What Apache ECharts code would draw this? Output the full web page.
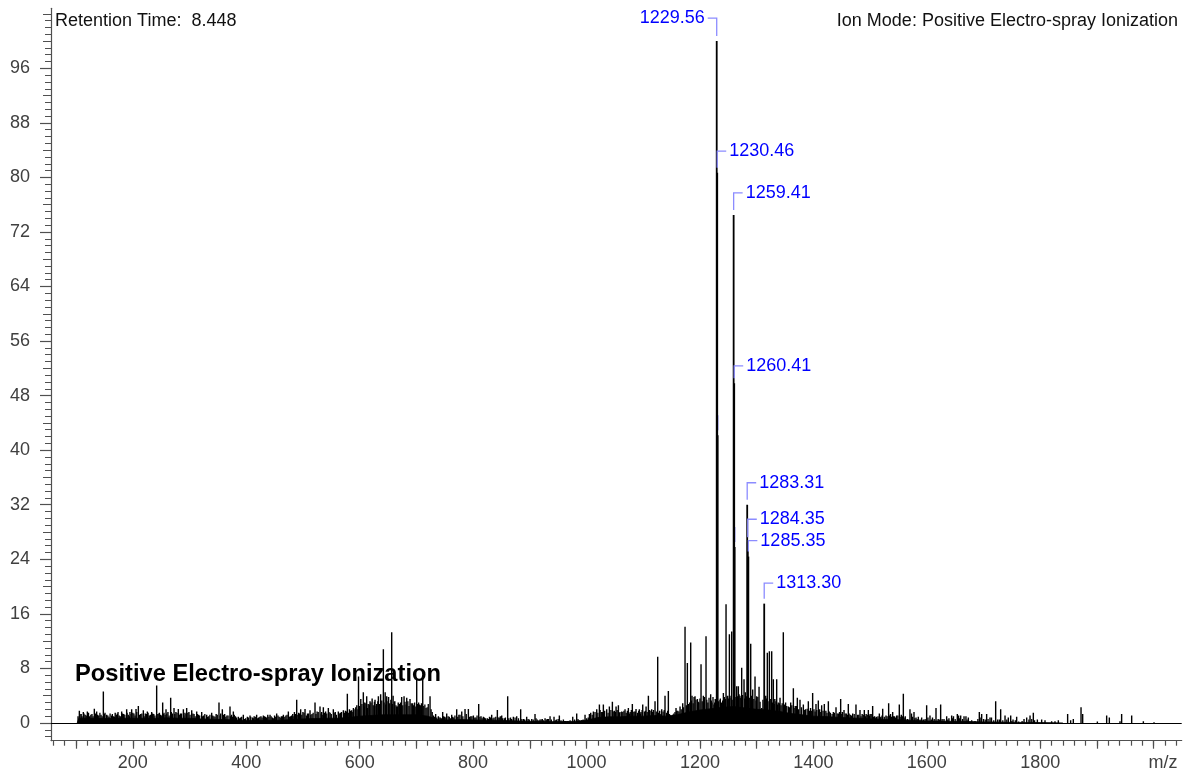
<!DOCTYPE html>
<html><head><meta charset="utf-8">
<script src="https://cdn.jsdelivr.net/npm/echarts@6/dist/echarts.min.js"></script>
<style>html,body{margin:0;padding:0;background:#fff}#c{width:1190px;height:776px}</style>
</head><body><div id="c"></div>
<script>
// ---------- DATA ----------
const peakMz = [103.5,105.8,109,112.8,116,119.9,124,128,132.2,136.3,140,144,148.1,151,154,158,162.8,166,169,172.8,176,180.4,184,189.2,192,195,198,202,205.7,209.8,214,218.6,222,225.7,229,233.3,237,242.1,246,249,252.7,255,258.6,262,266.8,270,272.7,276,280.3,284,289.2,292,295,299,303.9,308,312.7,316,321.5,325,330.3,334,339.1,343,347,352,355,357.9,362,366,371.4,374,377.3,381,386.1,390,394.9,399,402,406.7,411,414,418.4,422,426,430.2,434,438,442,446,450,453.7,458,462,465.5,470,474.3,478,482,485,489,492.5,496,500,503.7,508,512.5,516,521.3,525,530.1,533,536,540,544.8,548,553.6,557,562.4,566,571.3,575,578.3,582,586,589,591.8,595,598,602,606.5,609,612.4,615,618.3,622,627.1,630,633,637,641.8,645,647.7,651,656.5,659,662,665.3,668,674.1,678.3,683,688.8,693.5,700.6,705.3,711.2,717,724.1,730,734,738.8,742,746.4,750,753.5,758,762.3,766,771.1,775,780,785.8,791.7,796,800.5,805,809.9,814,818.1,822,825.2,829,832.8,837,842.8,846,850.5,855,861,866,871,876.9,883.9,889,894.5,899,903.4,909.2,913,918,922,926.9,931,935.7,942.7,947,952.1,959.2,963,968,975.7,982.7,987,991.5,997.4,1003,1007.4,1012.1,1018,1022.7,1026,1029.7,1035.6,1040.3,1045.6,1049,1052.1,1056.2,1059,1062.1,1067.9,1073.8,1077,1080.8,1084,1087.3,1093.2,1096,1099.1,1105,1109.1,1112,1114.9,1120.8,1125.5,1129,1132.6,1138.4,1144.3,1147,1150.2,1154,1157.8,1161,1164.9,1169.6,1173.7,1177.8,1183.7,1186,1189.6,1191.3,1195.5,1198,1201.9,1206,1210.7,1214,1218.9,1221,1224.8,1227,1235.4,1238,1241.3,1246,1249,1251.9,1256,1264.8,1267.7,1270.5,1273.6,1277.7,1280,1289.5,1293,1297.1,1300,1304.2,1308.9,1316,1318.8,1322.4,1326.5,1329.4,1332,1335.3,1338,1341.2,1347,1351,1355.9,1360,1364.7,1368,1371.7,1376.4,1382.3,1386,1391.1,1395,1398.7,1401,1404.6,1408.7,1411,1414.6,1419.3,1422,1426.4,1430,1435.2,1439.9,1444,1448.1,1451,1454,1458,1461.6,1465,1469.3,1475.1,1478,1482.2,1486,1489.8,1493,1496.9,1500,1504.5,1508,1511.6,1516.3,1519,1522.2,1528,1532.7,1536,1539.8,1543,1546.8,1551.5,1555,1558.6,1562,1565.6,1570.3,1573,1577.4,1581,1585,1590.9,1594,1599.7,1602,1605.6,1610,1616.2,1620,1624.4,1630.3,1635,1639,1643.8,1647,1653.8,1656,1659.7,1665.6,1669,1673.2,1679.1,1685,1692.6,1696.7,1700,1705.5,1711.4,1714,1721.4,1725,1730.2,1737.9,1743.7,1747.9,1752,1758.4,1771.4,1776.1,1782,1787.8,1794.9,1802.5,1808.4,1820.1,1826,1831.9,1848.3,1853.6,1858.3,1871.9,1874.8,1900.7,1917.1,1921.8,1940.6,1943.5,1961.2,1981.8,2000.6];
const peakInt = [1.0,1.8,1.3,1.6,1.2,1.7,1.0,1.3,2.1,1.7,1.1,1.2,4.6,1.5,1.2,0.9,1.1,1.0,1.5,1.4,1.1,1.7,1.3,2.0,1.2,1.6,2.0,1.4,2.05,2.5,1.3,1.85,1.4,1.7,1.1,1.6,1.3,5.5,1.4,1.2,3.0,1.5,2.0,1.6,3.7,1.4,2.2,1.6,2.05,1.4,2.0,1.5,2.2,1.6,1.85,1.3,1.7,1.2,1.6,1.1,1.2,1.0,1.5,1.0,1.3,3.0,1.4,2.0,1.3,1.1,2.4,1.2,1.7,1.0,0.9,0.8,1.2,0.7,0.9,1.1,0.8,1.0,1.2,0.8,1.0,1.1,0.9,1.2,1.2,0.8,1.1,1.4,0.9,1.0,1.2,1.1,1.7,1.0,1.3,1.6,3.4,1.5,2.0,1.6,2.05,1.4,1.85,1.3,3.0,1.7,2.4,1.6,2.3,1.7,2.2,1.5,2.0,1.6,1.7,1.5,1.85,1.8,4.3,2.0,1.85,2.2,2.0,2.6,6.8,3.5,4.5,3.0,3.9,2.8,3.2,3.6,3.4,2.8,3.9,4.2,10.8,4.5,3.9,3.8,13.3,4.0,3.2,2.4,3.0,3.8,3.9,3.7,3.5,2.9,6.5,2.7,6.5,2.2,3.9,1.1,1.3,1.0,0.8,1.6,0.9,1.4,0.9,1.2,0.8,2.0,1.2,1.7,2.05,2.05,1.0,1.1,0.8,2.8,1.0,0.9,0.7,0.7,0.9,1.2,0.8,1.9,0.8,1.1,0.7,3.9,0.8,0.9,1.0,2.0,0.6,0.9,0.5,0.6,1.3,0.5,0.5,0.6,0.7,0.6,1.0,0.9,0.5,1.1,0.5,0.3,0.25,0.9,1.4,0.4,0.4,1.2,0.8,1.5,1.7,2.0,2.7,1.6,2.7,2.0,2.4,3.1,1.8,2.4,2.6,1.6,1.7,2.0,2.2,1.6,2.8,1.7,2.05,2.0,1.6,2.7,2.4,4.0,1.8,2.0,3.2,9.7,1.8,2.0,4.0,4.7,1.2,1.0,1.4,2.2,1.8,2.4,2.9,14.1,8.8,11.8,4.0,3.8,3.9,3.5,3.0,8.6,4.0,12.7,3.0,4.2,3.0,2.7,3.5,3.4,3.0,4.4,17.4,4.0,13.0,13.4,5.4,5.4,4.0,8.1,6.4,4.5,11.6,4.9,6.8,3.9,5.3,2.2,4.0,10.3,10.5,10.5,6.4,3.5,6.4,3.0,3.7,13.3,3.0,2.4,3.0,5.1,2.5,3.7,3.4,2.7,2.0,3.2,2.2,4.4,2.0,2.8,3.3,2.0,2.6,2.8,1.8,3.2,1.5,1.6,2.3,1.4,3.5,1.6,1.9,1.4,2.8,1.2,1.4,2.7,1.2,1.9,1.3,1.9,1.3,1.9,1.3,2.5,1.0,0.9,1.4,0.9,2.1,1.1,2.9,1.3,1.6,1.0,1.1,2.7,1.2,4.3,1.0,0.6,2.0,1.4,1.6,0.8,0.9,0.8,0.5,2.6,0.8,1.1,0.8,2.2,0.6,2.7,0.6,1.0,0.7,1.1,1.0,1.3,1.1,1.1,1.0,1.0,0.8,0.4,0.3,1.6,1.3,0.6,1.3,0.8,0.8,3.2,0.5,2.0,1.1,0.8,1.1,0.5,0.9,0.6,0.8,1.1,1.5,0.5,0.5,0.4,0.25,0.25,0.4,1.3,0.4,0.6,2.3,1.3,0.2,1.1,0.8,0.25,1.3,1.1,0.25,0.1];
// small noise spikes filling the dense floor
const floorMz = [107,110.5,114,118,122,126,130,134,138,142,146,150,156,160,164,168,171,174,178,182,186,190,194,197,200,204,207,212,216,220,224,227,231,235,239,244,247,251,254,257,260,264,268,274,278,282,286,290,294,297,301,306,310,314,318,323,327,332,336,341,345,349,354,360,364,368,372,376,379,383,388,392,397,404,408,413,416,420,424,428,432,436,440,444,448,452,456,460,464,468,472,476,480,484,487,491,494,498,502,506,510,514,518,523,527,532,535,538,542,546,550,555,559,564,568,573,577,580,584,588,593,597,600,604,608,611,614,617,620,624,626,629,632,635,639,643,646,650,653,655,658,661,664,667,670,672,676,680,682,685,687,691,695,697,699,702,704,707,709,713,715,719,721,726,728,732,736,740,744,748,752,756,760,764,768,773,777,782,788,794,798,803,807,812,816,820,827,831,835,840,844,848,852,857,863,868,874,880,886,891,897,906,911,916,920,924,929,933,938,945,950,955,961,966,971,979,985,994,1000,1005,1010,1015,1020,1024,1028,1032,1038,1043,1047,1051,1054,1058,1064,1066,1070,1072,1076,1079,1082,1086,1090,1092,1095,1098,1102,1104,1107,1111,1116,1118,1123,1127,1131,1135,1137,1141,1143,1146,1149,1152,1156,1159,1163,1167,1171,1176,1180,1182,1185,1188,1193,1197,1200,1204,1208,1212,1216,1220,1223,1226,1228,1233,1236,1240,1243,1245,1248,1250,1253,1255,1258,1262,1266,1269,1272,1275,1279,1282,1287,1291,1295,1299,1302,1306,1311,1314,1317,1320,1324,1328,1331,1334,1337,1340,1343,1345,1349,1353,1358,1362,1366,1370,1374,1379,1384,1389,1393,1397,1403,1406,1413,1417,1424,1428,1433,1437,1442,1446,1450,1456,1460,1463,1467,1472,1480,1484,1488,1492,1495,1499,1502,1506,1510,1514,1518,1521,1525,1530,1534,1538,1541,1545,1549,1553,1557,1560,1567,1575,1579,1583,1588,1597,1608,1613,1622,1627,1637,1645,1650,1658,1663,1671,1690,1694,1703,1708,1718,1728,1734,1741,1750,1756,1762,1768,1780,1785,1790];
const floorInt = [1.3,1.0,1.4,1.1,1.5,1.2,1.0,1.4,1.2,1.5,1.0,1.3,1.1,1.4,1.3,0.9,1.2,1.6,1.0,1.4,1.2,1.5,1.0,1.3,1.5,1.1,1.6,1.2,1.4,1.0,1.3,1.5,1.2,1.4,1.1,1.3,1.5,1.1,1.3,1.2,1.4,1.1,1.6,1.3,1.5,1.2,1.4,1.1,1.3,1.5,1.2,1.4,1.0,1.3,1.1,1.0,1.3,0.9,1.2,1.1,0.9,1.2,1.1,1.2,0.9,1.1,1.0,0.9,1.2,0.8,0.7,0.9,0.6,0.8,0.9,0.7,0.9,0.7,0.9,0.8,1.0,0.8,0.9,1.0,0.7,0.9,1.1,0.8,1.0,0.9,1.2,0.9,1.1,1.0,1.3,1.2,1.4,1.2,1.5,1.1,1.4,1.2,1.5,1.3,1.6,1.4,1.2,1.5,1.4,1.6,1.3,1.5,1.2,1.4,1.6,1.5,1.7,1.5,1.8,1.6,2.3,2.0,2.5,2.8,2.4,2.9,2.2,2.7,3.0,2.6,3.1,2.5,3.2,2.8,3.3,3.0,2.7,3.2,2.9,3.4,2.8,3.1,2.6,2.4,2.8,3.0,2.6,3.1,2.7,3.2,2.5,2.9,2.6,3.0,2.4,2.8,3.0,2.6,2.9,2.5,2.7,2.3,2.8,2.0,1.6,0.9,0.8,0.8,0.7,1.0,0.8,1.0,0.7,0.9,1.1,0.9,1.2,1.0,1.3,0.9,1.0,0.8,1.1,0.9,0.7,0.8,0.6,0.8,0.7,0.9,0.8,1.0,0.7,0.8,0.7,0.6,0.8,0.7,0.6,0.5,0.6,0.5,0.7,0.4,0.5,0.4,0.5,0.6,0.5,0.4,0.6,0.4,0.3,0.3,0.4,0.5,0.6,0.5,0.7,1.3,1.2,1.6,1.5,1.9,1.6,1.8,1.5,1.9,1.7,1.6,1.9,1.5,1.6,1.8,1.5,1.8,1.4,1.9,1.6,1.7,1.5,1.8,1.4,1.9,1.7,1.8,1.6,1.9,1.6,1.9,1.7,1.5,1.3,1.7,1.9,1.5,1.8,1.3,1.0,1.2,1.6,1.8,1.7,2.0,2.3,2.6,2.8,3.0,3.3,2.9,3.4,3.1,3.6,3.2,3.8,3.4,3.7,3.3,3.8,3.0,3.4,3.2,3.6,3.3,3.8,3.5,3.9,3.6,4.0,3.7,3.4,3.8,3.9,4.2,3.7,4.1,3.6,3.9,3.7,4.0,3.5,3.3,3.8,3.1,3.4,3.0,3.6,3.2,3.5,3.0,2.8,3.2,2.7,2.9,2.6,2.9,2.7,2.5,2.3,2.6,2.2,2.5,2.0,2.3,1.9,2.1,1.8,1.8,1.7,1.9,1.6,1.8,1.5,1.7,1.3,1.5,1.4,1.6,1.3,1.4,1.2,1.4,1.1,1.3,1.2,1.0,1.2,1.0,1.2,1.1,1.3,0.9,0.8,1.0,0.8,1.1,0.9,1.0,1.1,0.9,1.0,0.8,1.1,0.9,1.0,0.8,0.5,0.9,0.7,0.6,0.5,0.6,0.5,0.6,0.5,0.6,0.5,0.7,0.6,0.7,0.6,0.5,0.6,0.8,0.5,0.6,0.4,0.5,0.4,0.5,0.3,0.4,0.2,0.3,0.5,0.6,0.4];
const bandMz = [102,105,120,140,160,180,200,220,240,260,280,300,320,340,360,380,400,420,440,460,480,500,520,540,560,580,600,620,640,660,680,700,720,740,760,780,800,820,840,860,880,900,920,940,960,980,1000,1020,1040,1060,1080,1100,1120,1140,1160,1180,1200,1220,1240,1260,1280,1300,1320,1340,1360,1380,1400,1420,1440,1460,1480,1500,1520,1540,1560,1580,1600,1620,1640,1660,1680,1700,1720,1740,1760,1780,1800,1820,1840];
const bandInt = [0,0.7,0.7,0.65,0.65,0.7,0.7,0.7,0.7,0.75,0.7,0.7,0.6,0.55,0.5,0.45,0.35,0.4,0.4,0.4,0.5,0.6,0.65,0.7,0.7,0.8,1.0,1.1,1.2,1.2,1.2,1.2,1.0,0.45,0.45,0.5,0.45,0.4,0.4,0.35,0.3,0.25,0.2,0.2,0.2,0.25,0.4,0.8,0.9,0.9,1.0,1.0,1.1,1.0,1.2,1.6,1.9,2.1,2.3,2.4,2.2,2.0,1.9,1.7,1.4,1.2,1.0,0.95,0.85,0.75,0.7,0.6,0.55,0.5,0.45,0.35,0.3,0.3,0.25,0.25,0.2,0.15,0.15,0.1,0.08,0.08,0.06,0.04,0];
const labelMz = [1229.56,1230.46,1259.41,1260.41,1283.31,1284.35,1285.35,1313.30];
const labelInt = [100,80.7,74.5,49.8,32,26.5,24.4,17.5];
const hiddenMz = [1231.46,1261.41];
const hiddenInt = [42.2,25.8];
const xTickLabels = [200,400,600,800,1000,1200,1400,1600,1800];
const yTickLabels = [0,8,16,24,32,40,48,56,64,72,80,88,96];
const retentionTime = '8.448';
const ionMode = 'Positive Electro-spray Ionization';

// ---------- STYLE / LAYOUT (not data) ----------
const labelSide = [-1,1,1,1,1,1,1,1];
const labelRise = [23,21.5,22,17.5,22,23,16,20.5];
const FONT = '"Liberation Sans", Arial, sans-serif';
const X_MIN = 55.8, X_MAX = 2049.4, Y_MIN = -2.6, Y_MAX = 104.8;

function range(a, b, s){ const r=[]; for(let v=a; v<=b+1e-9; v+=s) r.push(Math.round(v*100)/100); return r; }

const chart = echarts.init(document.getElementById('c'), null, {renderer:'canvas'});

function makeStick(width){
  return function(params, api){
    const mz = api.value(0), v = api.value(1);
    const b = api.coord([mz, 0]), t = api.coord([mz, v]);
    return {type:'line', shape:{x1:b[0], y1:b[1], x2:t[0], y2:t[1]}, style:{stroke:'#000', lineWidth:width}};
  };
}
function labeledItem(params, api){
  const i = params.dataIndex;
  const mz = api.value(0), v = api.value(1);
  const b = api.coord([mz, 0]), t = api.coord([mz, v]);
  const side = labelSide[i], ly = t[1] - labelRise[i];
  return {type:'group', children:[
    {type:'line', shape:{x1:t[0], y1:b[1], x2:t[0], y2:t[1]}, style:{stroke:'#000', lineWidth:1.8}},
    {type:'polyline', shape:{points:[[t[0], t[1]-5],[t[0], ly],[t[0]+side*9, ly]]}, style:{stroke:'#8c8cff', lineWidth:1.3, fill:null}},
    {type:'text', x: t[0]+side*12, y: ly, style:{text: labelMz[i].toFixed(2), fill:'#0000ff', font:'18px '+FONT, align: side<0?'right':'left', verticalAlign:'middle'}}
  ]};
}
function hiddenItem(params, api){
  const mz = api.value(0), v = api.value(1);
  const b = api.coord([mz, 0]), t = api.coord([mz, v]);
  return {type:'group', children:[
    {type:'line', shape:{x1:t[0], y1:b[1], x2:t[0], y2:t[1]}, style:{stroke:'#000', lineWidth:1.5}},
    {type:'line', shape:{x1:t[0], y1:t[1]-20, x2:t[0], y2:t[1]-5}, style:{stroke:'#8c8cff', lineWidth:1.3}}
  ]};
}

const axisGray = '#505050';
const labelGray = '#404040';
const baseX = {type:'value', min:X_MIN, max:X_MAX, position:'bottom', splitLine:{show:false}, gridIndex:0};
const baseY = {type:'value', min:Y_MIN, max:Y_MAX, position:'left', offset:0, splitLine:{show:false}, gridIndex:0};

chart.setOption({
  backgroundColor:'#fff',
  animation:false,
  grid:{left:51, right:8.3, top:8.3, bottom:35.3, containLabel:false},
  xAxis:[
    Object.assign({}, baseX, {
      axisLine:{show:true, onZero:false, lineStyle:{color:axisGray, width:1.2}},
      axisTick:{show:true, length:5, customValues: range(60, 2040, 20), lineStyle:{color:axisGray, width:1.2}},
      axisLabel:{show:true, customValues: xTickLabels, margin:13, color:labelGray, fontSize:18, fontFamily:FONT, formatter: v => String(v)},
    }),
    Object.assign({}, baseX, {
      axisLine:{show:false, onZero:false},
      axisTick:{show:true, length:8, customValues: range(100, 2000, 100), lineStyle:{color:axisGray, width:1.2}},
      axisLabel:{show:false}
    })
  ],
  yAxis:[
    Object.assign({}, baseY, {
      axisLine:{show:true, onZero:false, lineStyle:{color:axisGray, width:1.2}},
      axisTick:{show:true, length:6, customValues: range(-2, 104, 1), lineStyle:{color:axisGray, width:1}},
      axisLabel:{show:true, customValues: yTickLabels, margin:21, color:labelGray, fontSize:18, fontFamily:FONT, formatter: v => String(v)}
    }),
    Object.assign({}, baseY, {
      axisLine:{show:false, onZero:false},
      axisTick:{show:true, length:8, customValues: range(0, 104, 4), lineStyle:{color:axisGray, width:1}},
      axisLabel:{show:false}
    }),
    Object.assign({}, baseY, {
      axisLine:{show:false, onZero:false},
      axisTick:{show:true, length:11, customValues: yTickLabels, lineStyle:{color:axisGray, width:1.2}},
      axisLabel:{show:false}
    })
  ],
  graphic:[
    {type:'text', x:55, y:21.5, style:{text:'Retention Time:  ' + retentionTime, font:'18px '+FONT, fill:'#111', align:'left', verticalAlign:'middle'}},
    {type:'text', x:1178, y:21.5, style:{text:'Ion Mode: ' + ionMode, font:'18px '+FONT, fill:'#111', align:'right', verticalAlign:'middle'}},
    {type:'text', x:75, y:674, z:100, style:{text:ionMode, font:'bold 23.7px '+FONT, fill:'#000', align:'left', verticalAlign:'middle'}},
    {type:'text', x:1163, y:763, style:{text:'m/z', font:'18px '+FONT, fill:labelGray, align:'center', verticalAlign:'middle'}}
  ],
  series:[
    {
      name:'noise', type:'line', xAxisIndex:0, yAxisIndex:0, symbol:'none', silent:true, z:2,
      data: bandMz.map((m,i)=>[m, bandInt[i]]),
      lineStyle:{color:'#000', width:0.8}, areaStyle:{color:'#000', opacity:1},
      markLine:{silent:true, symbol:['none','none'], label:{show:false}, lineStyle:{color:'#000', width:1.2, type:'solid'}, data:[{yAxis:0}]}
    },
    {
      name:'floor', type:'custom', xAxisIndex:0, yAxisIndex:0, z:3, clip:true,
      renderItem: makeStick(1.3), encode:{x:0, y:1},
      data: floorMz.map((m,i)=>[m, floorInt[i]])
    },
    {
      name:'peaks', type:'custom', xAxisIndex:0, yAxisIndex:0, z:3, clip:true,
      renderItem: makeStick(1.4), encode:{x:0, y:1},
      data: peakMz.map((m,i)=>[m, peakInt[i]])
    },
    {
      name:'hidden', type:'custom', xAxisIndex:0, yAxisIndex:0, z:4,
      renderItem: hiddenItem, encode:{x:0, y:1},
      data: hiddenMz.map((m,i)=>[m, hiddenInt[i]])
    },
    {
      name:'labeled', type:'custom', xAxisIndex:0, yAxisIndex:0, z:5, clip:false,
      renderItem: labeledItem, encode:{x:0, y:1},
      data: labelMz.map((m,i)=>[m, labelInt[i]])
    }
  ]
});
</script>
</body></html>
